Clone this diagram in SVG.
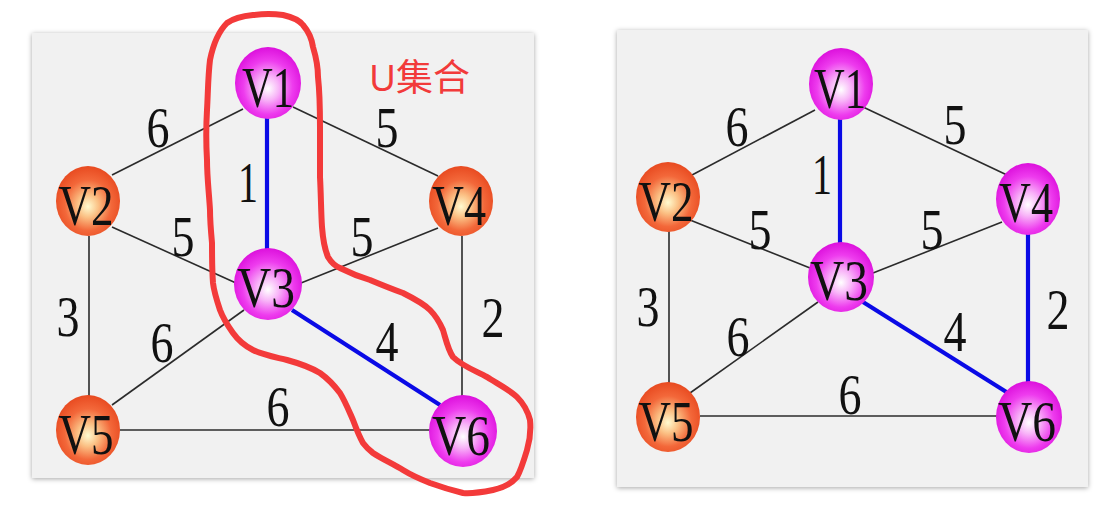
<svg xmlns="http://www.w3.org/2000/svg" width="1111" height="524" viewBox="0 0 1111 524">
<defs>
<filter id="sh" x="-5%" y="-5%" width="110%" height="110%">
<feDropShadow dx="0" dy="1" stdDeviation="2.5" flood-color="#000" flood-opacity="0.35"/>
</filter>
<radialGradient id="gm" cx="50%" cy="55%" r="55%" fx="50%" fy="58%">
<stop offset="0" stop-color="#ffffff"/>
<stop offset="0.3" stop-color="#f8b4f8"/>
<stop offset="0.68" stop-color="#ee3cee"/>
<stop offset="1" stop-color="#dc10dc"/>
</radialGradient>
<radialGradient id="go" cx="50%" cy="55%" r="55%" fx="50%" fy="58%">
<stop offset="0" stop-color="#fffbd0"/>
<stop offset="0.3" stop-color="#fbc084"/>
<stop offset="0.66" stop-color="#f3683a"/>
<stop offset="1" stop-color="#e84a20"/>
</radialGradient>
<style>
.panel{fill:#f1f1f1;filter:url(#sh)}
.e{stroke:#2b2b2b;stroke-width:1.6;fill:none}
.b{stroke:#0a0ae6;stroke-width:4.2;fill:none}
.m{fill:url(#gm)}
.o{fill:url(#go)}
.t{font-family:"Liberation Serif",serif;font-size:56px;fill:#111;text-anchor:middle}
.w{font-family:"Liberation Serif",serif;font-size:56px;fill:#111;text-anchor:middle}
.u{font-family:"Noto Sans","Noto Sans CJK SC",sans-serif;font-size:37px;fill:#f23a3a}
.red{fill:none;stroke:#f33a3a;stroke-width:6;stroke-linejoin:round;stroke-linecap:round}
</style>
</defs>
<rect width="1111" height="524" fill="#ffffff"/>

<!-- Left panel -->
<g id="left-panel">
<rect class="panel" x="32" y="33" width="502" height="445"/>
</g>
<g id="left-connectors">
<line class="e" x1="243" y1="109" x2="112" y2="175"/>
<line class="e" x1="293" y1="107" x2="438" y2="176"/>
<line class="b" x1="267" y1="118" x2="267" y2="249"/>
<line class="e" x1="112" y1="227" x2="236" y2="283"/>
<line class="e" x1="438" y1="228" x2="301" y2="283"/>
<line class="e" x1="89" y1="236" x2="89" y2="396"/>
<line class="e" x1="462" y1="236" x2="462" y2="396"/>
<line class="e" x1="244" y1="310" x2="112" y2="405"/>
<line class="b" x1="292" y1="310" x2="440" y2="405"/>
<line class="e" x1="120" y1="430" x2="431" y2="430"/>
<text class="w" x="158" y="147" textLength="23" lengthAdjust="spacingAndGlyphs">6</text>
<text class="w" x="387" y="147" textLength="23" lengthAdjust="spacingAndGlyphs">5</text>
<text class="w" x="248" y="202" textLength="20" lengthAdjust="spacingAndGlyphs">1</text>
<text class="w" x="183" y="256" textLength="23" lengthAdjust="spacingAndGlyphs">5</text>
<text class="w" x="362" y="256" textLength="23" lengthAdjust="spacingAndGlyphs">5</text>
<text class="w" x="68" y="336" textLength="23" lengthAdjust="spacingAndGlyphs">3</text>
<text class="w" x="493" y="337" textLength="23" lengthAdjust="spacingAndGlyphs">2</text>
<text class="w" x="162" y="362" textLength="23" lengthAdjust="spacingAndGlyphs">6</text>
<text class="w" x="387" y="361" textLength="23" lengthAdjust="spacingAndGlyphs">4</text>
<text class="w" x="278" y="426" textLength="23" lengthAdjust="spacingAndGlyphs">6</text>
</g>
<g id="L-V1"><ellipse class="m" cx="268" cy="83" rx="33" ry="36"/><text class="t" x="268" y="107" textLength="52" lengthAdjust="spacingAndGlyphs">V1</text></g>
<g id="L-V2"><ellipse class="o" cx="88" cy="201" rx="32" ry="35"/><text class="t" x="86" y="225" textLength="55" lengthAdjust="spacingAndGlyphs">V2</text></g>
<g id="L-V3"><ellipse class="m" cx="268" cy="284" rx="34" ry="36"/><text class="t" x="266" y="307" textLength="58" lengthAdjust="spacingAndGlyphs">V3</text></g>
<g id="L-V4"><ellipse class="o" cx="461" cy="201" rx="32" ry="35"/><text class="t" x="459" y="225" textLength="54" lengthAdjust="spacingAndGlyphs">V4</text></g>
<g id="L-V5"><ellipse class="o" cx="88" cy="430" rx="32" ry="35"/><text class="t" x="86" y="454" textLength="55" lengthAdjust="spacingAndGlyphs">V5</text></g>
<g id="L-V6"><ellipse class="m" cx="463" cy="431" rx="34" ry="36"/><text class="t" x="461" y="455" textLength="58" lengthAdjust="spacingAndGlyphs">V6</text></g>
<g id="U-set">
<path class="red" d="M253,15 C262,14 275,14 283,15 C292,17 299,20 303,25 C309,32 312,40 313,47 C316,57 318,67 318,77 C320,95 320,110 320,127 L320,177 C321,195 321,212 322,227 C323,240 325,250 328,257 C331,262 335,266 340,268 C350,273 360,277 370,280 C382,285 392,289 403,293 C413,298 423,303 430,310 C436,316 440,323 443,330 C446,340 448,350 453,357 C462,366 476,371 487,377 C498,384 510,390 517,397 C524,404 528,412 530,420 C531,430 530,440 527,450 C524,460 521,470 517,477 C511,484 503,488 493,490 C483,492 473,494 463,493 C451,490 441,487 430,483 C420,479 411,475 403,470 C393,464 382,459 373,453 C369,450 366,447 363,443 C359,436 356,428 353,420 C349,411 345,401 340,393 C334,385 327,378 320,373 C310,367 298,363 287,360 C275,357 263,355 253,350 C245,346 238,340 233,333 C228,326 223,318 220,310 C217,301 214,292 213,283 C212,270 212,256 212,243 C211,232 210,221 210,210 C209,193 207,177 207,160 C206,143 206,127 207,110 C208,93 208,76 210,60 C213,45 219,31 227,23 C234,18 243,16 253,15 Z"/>
<text class="u" x="369" y="91">U集合</text>
</g>

<!-- Right panel -->
<g id="right-panel">
<rect class="panel" x="617" y="30" width="471" height="457"/>
</g>
<g id="right-connectors">
<line class="e" x1="815" y1="110" x2="692" y2="175"/>
<line class="e" x1="863" y1="107" x2="1007" y2="175"/>
<line class="b" x1="840" y1="118" x2="840" y2="244"/>
<line class="e" x1="690" y1="220" x2="810" y2="268"/>
<line class="e" x1="1002" y1="222" x2="873" y2="273"/>
<line class="e" x1="669" y1="230" x2="669" y2="384"/>
<line class="b" x1="1028" y1="233" x2="1028" y2="384"/>
<line class="e" x1="818" y1="302" x2="690" y2="393"/>
<line class="b" x1="863" y1="302" x2="1008" y2="393"/>
<line class="e" x1="700" y1="416" x2="997" y2="416"/>
<text class="w" x="737" y="146" textLength="23" lengthAdjust="spacingAndGlyphs">6</text>
<text class="w" x="955" y="144" textLength="23" lengthAdjust="spacingAndGlyphs">5</text>
<text class="w" x="822" y="194" textLength="20" lengthAdjust="spacingAndGlyphs">1</text>
<text class="w" x="760" y="249" textLength="23" lengthAdjust="spacingAndGlyphs">5</text>
<text class="w" x="932" y="249" textLength="23" lengthAdjust="spacingAndGlyphs">5</text>
<text class="w" x="648" y="326" textLength="23" lengthAdjust="spacingAndGlyphs">3</text>
<text class="w" x="1058" y="329" textLength="23" lengthAdjust="spacingAndGlyphs">2</text>
<text class="w" x="738" y="356" textLength="23" lengthAdjust="spacingAndGlyphs">6</text>
<text class="w" x="955" y="351" textLength="23" lengthAdjust="spacingAndGlyphs">4</text>
<text class="w" x="850" y="414" textLength="23" lengthAdjust="spacingAndGlyphs">6</text>
</g>
<g id="R-V1"><ellipse class="m" cx="841" cy="84" rx="32" ry="36"/><text class="t" x="840" y="108" textLength="52" lengthAdjust="spacingAndGlyphs">V1</text></g>
<g id="R-V2"><ellipse class="o" cx="668" cy="197" rx="32" ry="35"/><text class="t" x="666" y="221" textLength="55" lengthAdjust="spacingAndGlyphs">V2</text></g>
<g id="R-V3"><ellipse class="m" cx="841" cy="277" rx="33" ry="35"/><text class="t" x="839" y="300" textLength="58" lengthAdjust="spacingAndGlyphs">V3</text></g>
<g id="R-V4"><ellipse class="m" cx="1028" cy="199" rx="32" ry="36"/><text class="t" x="1026" y="222" textLength="54" lengthAdjust="spacingAndGlyphs">V4</text></g>
<g id="R-V5"><ellipse class="o" cx="668" cy="417" rx="32" ry="35"/><text class="t" x="666" y="441" textLength="55" lengthAdjust="spacingAndGlyphs">V5</text></g>
<g id="R-V6"><ellipse class="m" cx="1029" cy="417" rx="33" ry="36"/><text class="t" x="1027" y="441" textLength="58" lengthAdjust="spacingAndGlyphs">V6</text></g>
</svg>
